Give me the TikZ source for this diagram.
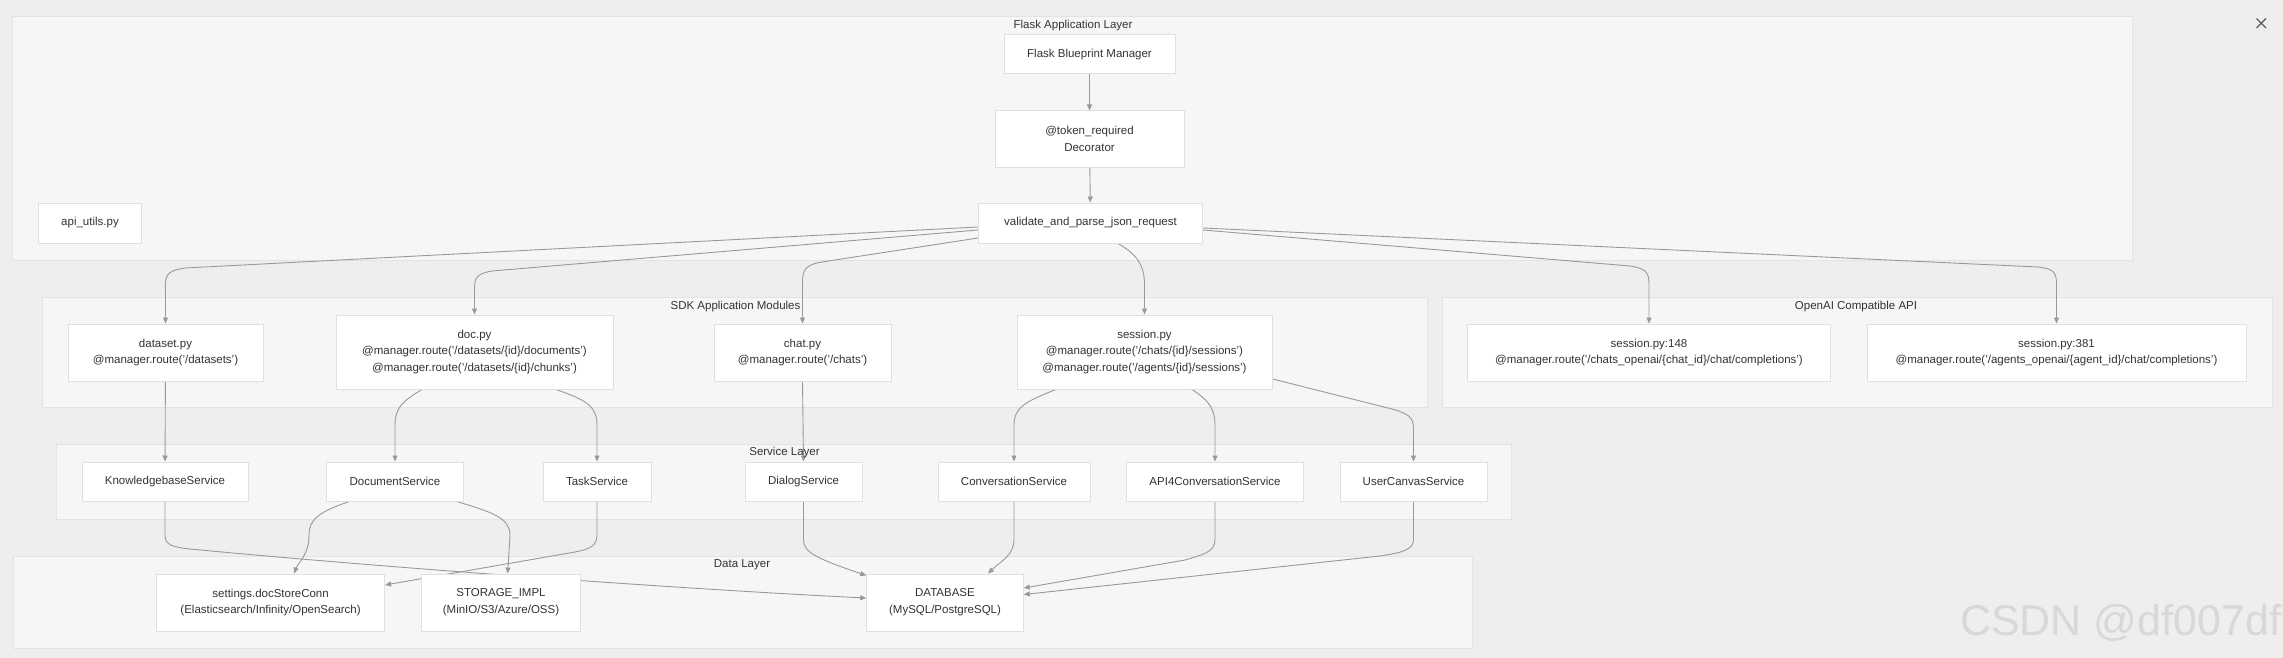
\documentclass[tikz,border=0pt]{standalone}
\usepackage{fontspec}
\setmainfont{Liberation Sans}
\usetikzlibrary{arrows.meta,positioning}
\definecolor{pagebg}{HTML}{EFEEEC}
\definecolor{tierfill}{HTML}{F6F6F6}
\definecolor{tierline}{HTML}{E3E3E3}
\definecolor{boxline}{HTML}{E0E0E0}
\definecolor{wiregray}{HTML}{999999}
\definecolor{txt}{HTML}{333333}
\definecolor{wmgray}{HTML}{D8D8D6}
\pgfdeclarelayer{back}
\pgfdeclarelayer{wires}
\pgfsetlayers{back,wires,main}
\tikzset{
  mod/.style={draw=boxline, line width=1pt, fill=white, text=txt, align=center,
    inner sep=0pt, font=\fontsize{11.5}{16.7}\selectfont},
  tier/.style={draw=tierline, line width=1pt, fill=tierfill},
  tiertitle/.style={text=txt, inner sep=0pt, font=\fontsize{11.5}{14}\selectfont},
  wire/.style={draw=wiregray, line width=0.9pt, -{Triangle[length=6pt,width=5pt]}},
}
\begin{document}
\begin{tikzpicture}[x=1pt,y=-1pt]
  \useasboundingbox (0,0) rectangle (2283,658);

  % flask layer
  \node[tiertitle] (flaskt) at (1073,26) {Flask Application Layer};
  \node[mod, minimum width=171pt, minimum height=39pt] (fbm) at (1089.5,54.5) {Flask Blueprint Manager};
  \node[mod, minimum width=189pt, minimum height=56pt] (deco) at (1089.5,139) {@token\_required\\Decorator};
  \node[mod, minimum width=224pt, minimum height=40pt] (valid) at (1090.5,223) {validate\_and\_parse\_json\_request};
  \node[mod, minimum width=103.5pt, minimum height=40pt] (apiutil) at (90,223) {api\_utils.py};

  % sdk modules
  \node[tiertitle] (sdkt) at (735.5,307) {SDK Application Modules};
  \node[mod, minimum width=195pt, minimum height=57pt] (dataset) at (165.5,352.5) {dataset.py\\@manager.route('/datasets')};
  \node[mod, minimum width=277pt, minimum height=74pt] (doc) at (474.5,352) {doc.py\\@manager.route('/datasets/\{id\}/documents')\\@manager.route('/datasets/\{id\}/chunks')};
  \node[mod, minimum width=177pt, minimum height=57pt] (chat) at (802.5,352.5) {chat.py\\@manager.route('/chats')};
  \node[mod, minimum width=255pt, minimum height=74pt] (session) at (1144.5,352) {session.py\\@manager.route('/chats/\{id\}/sessions')\\@manager.route('/agents/\{id\}/sessions')};

  % openai api
  \node[tiertitle] (oait) at (1856,307) {OpenAI Compatible API};
  \node[mod, minimum width=363.5pt, minimum height=57pt] (s148) at (1649,352.5) {session.py:148\\@manager.route('/chats\_openai/\{chat\_id\}/chat/completions')};
  \node[mod, minimum width=379pt, minimum height=57pt] (s381) at (2056.5,352.5) {session.py:381\\@manager.route('/agents\_openai/\{agent\_id\}/chat/completions')};

  % services
  \node[tiertitle] (svct) at (784.5,453) {Service Layer};
  \node[mod, minimum width=166pt, minimum height=39pt] (kb) at (165,481.5) {KnowledgebaseService};
  \node[mod, minimum width=137.5pt, minimum height=39pt] (docsvc) at (395,481.5) {DocumentService};
  \node[mod, minimum width=108pt, minimum height=39pt] (task) at (597,481.5) {TaskService};
  \node[mod, minimum width=117pt, minimum height=39pt] (dialog) at (803.5,481.5) {DialogService};
  \node[mod, minimum width=152pt, minimum height=39pt] (conv) at (1014,481.5) {ConversationService};
  \node[mod, minimum width=177.5pt, minimum height=39pt] (api4) at (1215,481.5) {API4ConversationService};
  \node[mod, minimum width=147pt, minimum height=39pt] (ucanvas) at (1413.5,481.5) {UserCanvasService};

  % data
  \node[tiertitle] (datat) at (742,565) {Data Layer};
  \node[mod, minimum width=228pt, minimum height=57pt] (docstore) at (270.6,602.5) {settings.docStoreConn\\(Elasticsearch/Infinity/OpenSearch)};
  \node[mod, minimum width=159.6pt, minimum height=57pt] (storage) at (501,602.5) {STORAGE\_IMPL\\(MinIO/S3/Azure/OSS)};
  \node[mod, minimum width=156.5pt, minimum height=57pt] (database) at (945,602.5) {DATABASE\\(MySQL/PostgreSQL)};

  \node[anchor=base west, inner sep=0pt, text=wmgray, font=\fontsize{43}{43}\selectfont] (wm) at (1960,635) {CSDN @df007df};
  \draw[line width=1.2pt, draw=txt!80] (2256.5,18.5) -- (2266,28) (2266,18.5) -- (2256.5,28);

  \begin{pgfonlayer}{back}
    \fill[pagebg] (0,0) rectangle (2283,658);
    \draw[tier] (12,17) rectangle (2132,260);
    \draw[tier] (42,297) rectangle (1427,407);
    \draw[tier] (1442,297) rectangle (2272,407);
    \draw[tier] (56,444) rectangle (1511.5,519);
    \draw[tier] (13,556) rectangle (1472,648);
  \end{pgfonlayer}

  \begin{pgfonlayer}{wires}
    \draw[wire] (fbm) -- (deco);
    \draw[wire] (deco) -- (valid);
    \draw[wire] ([yshift=-4pt]valid.west) -- (185,268) .. controls (165,271) and (165,276) .. (165.5,292) -- (dataset.north);
    \draw[wire] ([yshift=-7pt]valid.west) -- (492,271) .. controls (474.5,274) and (474.5,279) .. (474.5,292) -- (doc.north);
    \draw[wire] ([yshift=-15pt]valid.west) -- (822,262) .. controls (803,265) and (802.5,272) .. (802.5,285) -- (chat.north);
    \draw[wire] ([xshift=27.5pt]valid.south) .. controls (1138,255) and (1144.5,266) .. (1144.5,285) -- (session.north);
    \draw[wire] ([yshift=-7pt]valid.east) -- (1630,266) .. controls (1649,269) and (1649,274) .. (1649,288) -- (s148.north);
    \draw[wire] ([yshift=-5pt]valid.east) -- (2038,267) .. controls (2056.5,269) and (2056.5,274) .. (2056.5,288) -- (s381.north);

    \draw[wire] (dataset) -- (kb);
    \draw[wire] ([xshift=-52.5pt]doc.south) .. controls (405,400) and (395,406) .. (395,425) -- (docsvc.north);
    \draw[wire] ([xshift=81.5pt]doc.south) .. controls (586,400) and (597,406) .. (597,425) -- (task.north);
    \draw[wire] (chat.south) -- (dialog.north);
    \draw[wire] ([xshift=-88.5pt]session.south) .. controls (1024,402) and (1014,408) .. (1014,425) -- (conv.north);
    \draw[wire] ([xshift=47.5pt]session.south) .. controls (1208,400) and (1215,408) .. (1215,425) -- (api4.north);
    \draw[wire] ([yshift=-27pt]session.east) -- (1392,409) .. controls (1413.5,415) and (1413.5,420) .. (1413.5,432) -- (ucanvas.north);

    \draw[wire] (kb.south) -- (165,535) .. controls (165,545) and (172,547) .. (190,549) .. controls (400,569) and (700,590) .. ([yshift=4.5pt]database.west);
    \draw[wire] (task.south) -- (597,535) .. controls (597,546) and (590,549) .. (575,552) -- ([yshift=17.5pt]docstore.east);
    \draw[wire] ([xshift=-45.5pt]docsvc.south) .. controls (318,512) and (309,520) .. (309,535) .. controls (309,555) and (298,563) .. ([xshift=23.4pt]docstore.north);
    \draw[wire] ([xshift=61.5pt]docsvc.south) .. controls (492,512) and (510,518) .. (510,535) -- ([xshift=6.6pt]storage.north);
    \draw[wire] (dialog.south) -- (803.5,540) .. controls (803.5,552) and (815,558) .. ([yshift=-2pt]database.north west);
    \draw[wire] (conv.south) -- (1014,540) .. controls (1014,555) and (1000,562) .. ([xshift=43pt]database.north);
    \draw[wire] (api4.south) -- (1215,540) .. controls (1215,552) and (1202,555) .. (1185,560) -- ([yshift=14.5pt]database.east);
    \draw[wire] (ucanvas.south) -- (1413.5,540) .. controls (1413.5,550) and (1400,553) .. (1380,556) -- ([yshift=8pt]database.east);
  \end{pgfonlayer}
\end{tikzpicture}
\end{document}
